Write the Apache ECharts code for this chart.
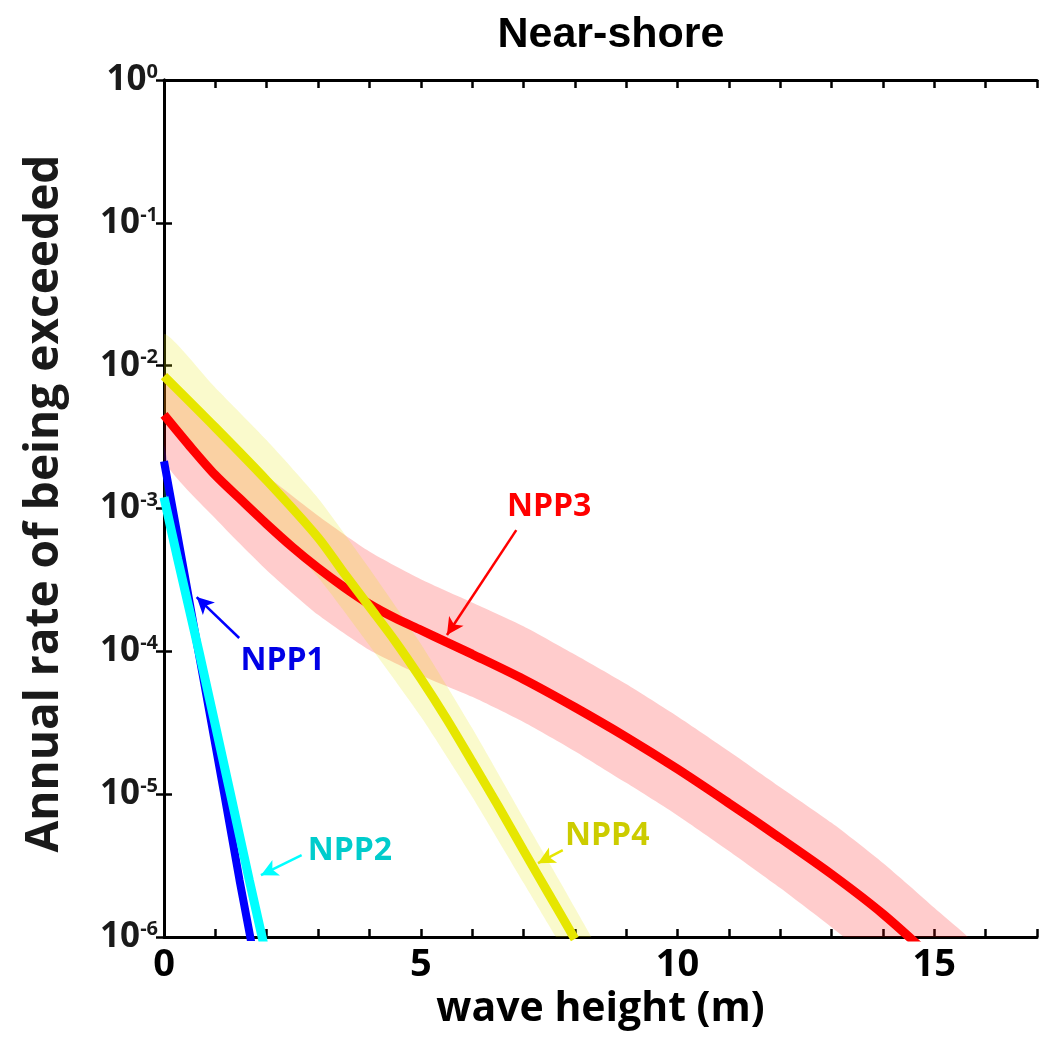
<!DOCTYPE html>
<html><head><meta charset="utf-8">
<script src="https://cdn.jsdelivr.net/npm/echarts@6/dist/echarts.min.js"></script>
<style>html,body{margin:0;padding:0;background:#fff}#c{width:1040px;height:1037px}</style>
</head><body><div id="c"></div>
<script>
const titleText = 'Near-shore';
const xAxisName = 'wave height (m)';
const yAxisName = 'Annual rate of being exceeded';
const xTickLabels = [0, 5, 10, 15];
const yTickExponents = [0, -1, -2, -3, -4, -5, -6];

// NPP3 (red)
const npp3X = [0,0.5,1,1.5,2,2.5,3,3.5,4,4.5,5,5.5,6,7,8,9,10,11,12,13,14,15];
const npp3Rate = [4.52e-3,2.74e-3,1.71e-3,1.15e-3,7.78e-4,5.37e-4,3.83e-4,2.82e-4,2.14e-4,1.71e-4,1.41e-4,1.16e-4,9.55e-5,6.38e-5,4.06e-5,2.51e-5,1.50e-5,8.65e-6,4.92e-6,2.75e-6,1.45e-6,6.9e-7];
const npp3BandX = [0,1,2,3,4,5,6,7,8,9,10,11,12,13,14,15,16];
const npp3Upper = [8.9e-3,3.6e-3,1.7e-3,8.9e-4,5.0e-4,3.2e-4,2.2e-4,1.5e-4,9.5e-5,5.9e-5,3.5e-5,2.0e-5,1.12e-5,6.3e-6,3.3e-6,1.6e-6,7.1e-7];
const npp3Lower = [2.2e-3,8.5e-4,3.7e-4,1.8e-4,1.02e-4,6.8e-5,4.8e-5,3.2e-5,2.0e-5,1.2e-5,7.1e-6,4.0e-6,2.2e-6,1.17e-6,6.0e-7,3.2e-7,1.3e-7];

// NPP4 (yellow)
const npp4X = [0,1,2,3,3.5,4,4.5,5,5.5,6,6.5,7,7.5,8];
const npp4Rate = [8.45e-3,3.69e-3,1.57e-3,6.26e-4,3.55e-4,2.05e-4,1.18e-4,6.45e-5,3.38e-5,1.69e-5,8.36e-6,4.05e-6,1.98e-6,9.7e-7];
const npp4BandX = [0,1,2,3,4,5,6,7,8,9];
const npp4Upper = [1.66e-2,7.0e-3,3.0e-3,1.18e-3,3.8e-4,1.13e-4,2.9e-5,6.8e-6,1.6e-6,3.4e-7];
const npp4Lower = [4.4e-3,1.9e-3,8.2e-4,3.3e-4,1.1e-4,3.5e-5,9.6e-6,2.4e-6,6.0e-7,1.5e-7];

// NPP1 (blue)
const npp1X = [0,0.35,0.67,1.17,1.47,1.68,1.8];
const npp1Rate = [2.14e-3,4.37e-4,1.0e-4,1.02e-5,2.51e-6,1.0e-6,5.6e-7];
const npp1Upper = [2.8e-3,5.8e-4,1.32e-4,1.35e-5,3.3e-6,1.32e-6,7.4e-7];
const npp1Lower = [1.62e-3,3.3e-4,7.6e-5,7.8e-6,1.9e-6,7.6e-7,4.3e-7];

// NPP2 (cyan)
const npp2X = [0,0.27,0.68,1.29,1.66,1.91,2.0];
const npp2Rate = [1.2e-3,4.37e-4,1.0e-4,1.02e-5,2.51e-6,1.0e-6,7.08e-7];
const npp2Upper = [1.58e-3,5.8e-4,1.32e-4,1.35e-5,3.3e-6,1.32e-6,9.3e-7];
const npp2Lower = [9.1e-4,3.3e-4,7.6e-5,7.8e-6,1.9e-6,7.6e-7,5.4e-7];

// annotations: label position and arrow (tail -> head), in data coordinates
const annotations = [
  { name: 'NPP1', text: [2.31, 8.53e-5], tail: [1.464, 1.24e-4], head: [0.636, 2.40e-4] },
  { name: 'NPP2', text: [3.62, 3.99e-6], tail: [2.68, 3.74e-6], head: [1.888, 2.71e-6] },
  { name: 'NPP3', text: [7.50, 1.02e-3], tail: [6.86, 7.06e-4], head: [5.51, 1.30e-4] },
  { name: 'NPP4', text: [8.63, 5.08e-6], tail: [7.765, 4.06e-6], head: [7.283, 3.29e-6] }
];

const FONT = 'Open Sans';
const chart = echarts.init(document.getElementById('c'), null, { renderer: 'canvas' });

function band(xs, up, lo, color) {
  return {
    type: 'custom', clip: true, silent: true, z: 1,
    data: [[xs[0], up[0]]],
    renderItem: function (params, api) {
      const pts = [];
      for (let i = 0; i < xs.length; i++) pts.push(api.coord([xs[i], up[i]]));
      for (let i = xs.length - 1; i >= 0; i--) pts.push(api.coord([xs[i], lo[i]]));
      return { type: 'polygon', shape: { points: pts, smooth: 0.2 }, style: { fill: color } };
    }
  };
}
function line(xs, ys, color, width, ann, textColor, z) {
  const a = annotations.find(d => d.name === ann);
  return {
    type: 'line', smooth: 0.3, showSymbol: false, silent: true, z: z, clip: true,
    data: xs.map((x, i) => [x, ys[i]]),
    lineStyle: { color: color, width: width },
    markLine: {
      silent: true, symbol: ['none', 'arrow'], symbolSize: [13, 17], animation: false,
      lineStyle: { color: color, width: 2.5, type: 'solid' }, label: { show: false },
      data: [[{ coord: a.tail }, { coord: a.head }]]
    },
    markPoint: {
      silent: true, animation: false,
      data: [{ coord: a.text, symbol: 'rect', symbolSize: 1, itemStyle: { color: 'rgba(0,0,0,0)' },
        label: { show: true, position: 'inside', formatter: a.name, color: textColor,
          fontSize: 32, fontWeight: 'bold', fontFamily: FONT } }]
    }
  };
}

const axisLineStyle = { show: true, lineStyle: { color: '#000', width: 3 } };
const tickStyle = { show: true, inside: true, length: 8, lineStyle: { color: '#000', width: 2.5 } };

chart.setOption({
  animation: false,
  backgroundColor: '#fff',
  title: {
    text: titleText, left: 606, top: 9, textAlign: 'center',
    textStyle: { fontFamily: 'Liberation Sans', fontWeight: 'bold', fontSize: 43, color: '#000' }
  },
  grid: { left: 164, top: 80, right: -6, bottom: 100, containLabel: false },
  xAxis: [
    {
      type: 'value', min: 0, max: 17, interval: 1, position: 'bottom',
      axisLine: axisLineStyle, axisTick: tickStyle, splitLine: { show: false },
      axisLabel: { formatter: v => xTickLabels.includes(v) ? String(v) : '', fontSize: 38, fontWeight: 'bold',
        color: '#000', fontFamily: FONT, margin: 9, hideOverlap: false },
      name: xAxisName, nameLocation: 'middle', nameGap: 52,
      nameTextStyle: { fontSize: 41, fontWeight: 'bold', color: '#000', fontFamily: FONT }
    },
    {
      type: 'value', min: 0, max: 17, interval: 1, position: 'top',
      axisLine: axisLineStyle, axisTick: tickStyle, splitLine: { show: false }, axisLabel: { show: false }
    }
  ],
  yAxis: [
    {
      type: 'log', logBase: 10, min: 1e-6, max: 1, splitNumber: 6, position: 'left',
      axisLine: axisLineStyle, axisTick: tickStyle, splitLine: { show: false }, minorTick: { show: false },
      axisLabel: {
        margin: 6, color: '#1a1a1a',
        formatter: v => { const e = Math.round(Math.log10(v)); return yTickExponents.includes(e) ? '{b|10}{s|' + e + '}' : ''; },
        rich: {
          b: { fontSize: 35, fontWeight: 'bold', fontFamily: FONT, color: '#1a1a1a', lineHeight: 36 },
          s: { fontSize: 20, fontWeight: 'bold', fontFamily: FONT, color: '#1a1a1a', lineHeight: 36, verticalAlign: 'top' }
        }
      },
      name: yAxisName, nameLocation: 'middle', nameGap: 96, nameRotate: 90,
      nameTextStyle: { fontSize: 46, fontWeight: 'bold', color: '#1a1a1a', fontFamily: FONT, padding: [0, 0, 0, 10] }
    },
    {
      type: 'log', logBase: 10, min: 1e-6, max: 1, splitNumber: 6, position: 'right',
      axisLine: axisLineStyle, axisTick: tickStyle, splitLine: { show: false }, axisLabel: { show: false }
    }
  ],
  series: [
    band(npp3BandX, npp3Upper, npp3Lower, 'rgba(255,0,0,0.2)'),
    band(npp4BandX, npp4Upper, npp4Lower, 'rgba(230,230,0,0.2)'),
    band(npp1X, npp1Upper, npp1Lower, 'rgba(0,0,255,0.2)'),
    band(npp2X, npp2Upper, npp2Lower, 'rgba(0,255,255,0.2)'),
    line(npp1X, npp1Rate, '#0000ff', 8, 'NPP1', '#0000e6', 3),
    line(npp2X, npp2Rate, '#00ffff', 9, 'NPP2', '#00cccc', 4),
    line(npp3X, npp3Rate, '#ff0000', 9, 'NPP3', '#ff0000', 5),
    line(npp4X, npp4Rate, '#e6e600', 9, 'NPP4', '#cccc00', 6)
  ]
});
</script></body></html>
